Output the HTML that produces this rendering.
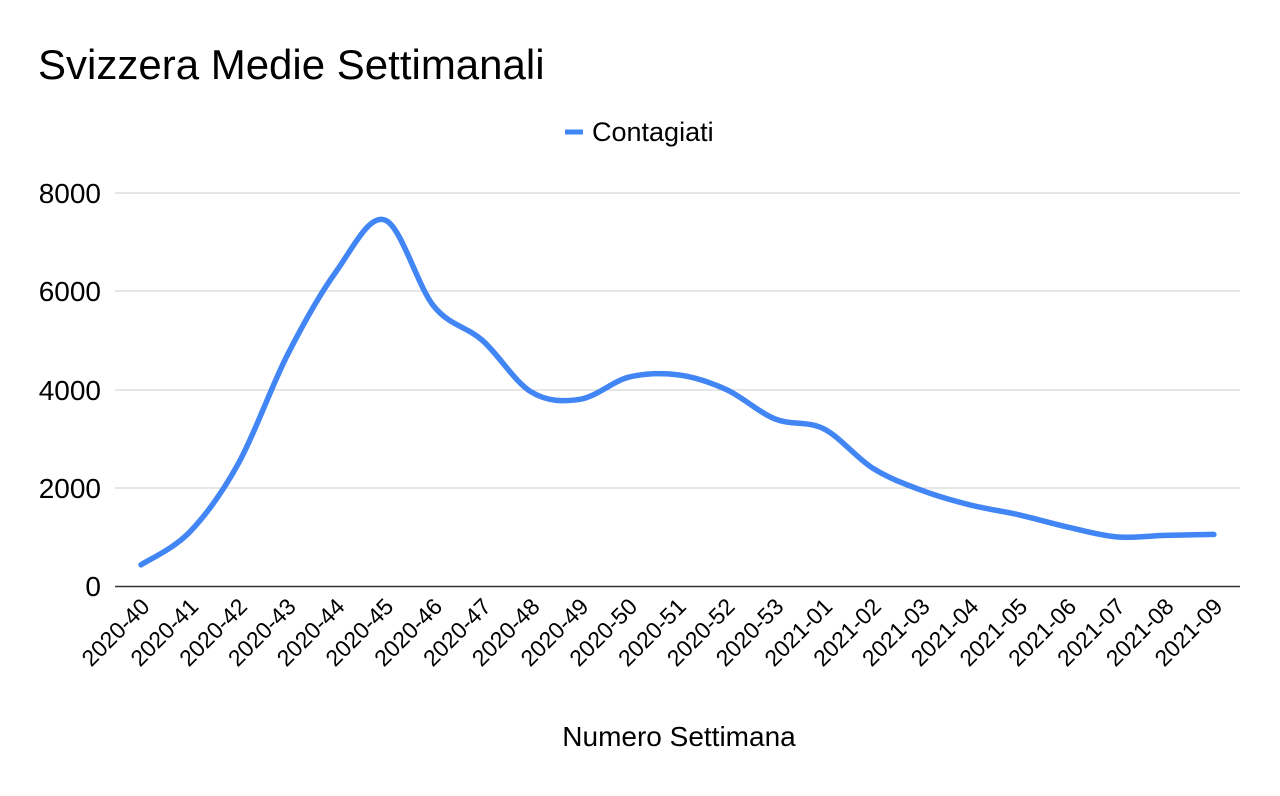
<!DOCTYPE html>
<html><head><meta charset="utf-8"><style>
body{margin:0;background:#fff;}
svg text{font-family:"Liberation Sans",Arial,sans-serif;fill:#000;}
</style></head><body>
<svg id="s" width="1280" height="791" xmlns="http://www.w3.org/2000/svg">
<rect width="1280" height="791" fill="#fff"/>
<text x="38" y="79" font-size="42">Svizzera Medie Settimanali</text>
<line x1="565" y1="132" x2="583" y2="132" stroke="#4285f4" stroke-width="5"/>
<text x="592" y="141" font-size="27">Contagiati</text>
<g stroke="#cccccc" stroke-width="1">
<line x1="115" y1="193" x2="1240" y2="193"/>
<line x1="115" y1="291" x2="1240" y2="291"/>
<line x1="115" y1="390" x2="1240" y2="390"/>
<line x1="115" y1="488" x2="1240" y2="488"/>
</g>
<line x1="115" y1="586.5" x2="1240" y2="586.5" stroke="#333" stroke-width="1.5"/>
<g font-size="28" text-anchor="end">
<text x="101" y="203">8000</text>
<text x="101" y="301">6000</text>
<text x="101" y="400">4000</text>
<text x="101" y="498">2000</text>
<text x="101" y="596">0</text>
</g>
<g id="xl" font-size="23" text-anchor="end"></g>
<path id="p" fill="none" stroke="#4285f4" stroke-width="5.5" stroke-linejoin="round" stroke-linecap="round"/>
<text x="679" y="746" font-size="28" text-anchor="middle">Numero Settimana</text>
</svg>
<script>
var v=[430,1100,2500,4700,6400,7450,5700,5000,3950,3800,4250,4300,4000,3400,3200,2400,1950,1650,1450,1200,1000,1030,1050];
var lab=[];for(var i=40;i<=53;i++)lab.push("2020-"+i);for(var i=1;i<=9;i++)lab.push("2021-0"+i);
var pts=v.map(function(d,i){return [141+i*48.77,586-d*0.049125];});
var d="M"+pts[0][0]+","+pts[0][1];
for(var i=0;i<pts.length-1;i++){var p0=pts[Math.max(0,i-1)],p1=pts[i],p2=pts[i+1],p3=pts[Math.min(pts.length-1,i+2)];
var t=6;d+=" C"+(p1[0]+(p2[0]-p0[0])/t)+","+(p1[1]+(p2[1]-p0[1])/t)+" "+(p2[0]-(p3[0]-p1[0])/t)+","+(p2[1]-(p3[1]-p1[1])/t)+" "+p2[0]+","+p2[1];}
document.getElementById("p").setAttribute("d",d);
var g=document.getElementById("xl"),h="";
lab.forEach(function(l,i){var x=141+i*48.77+10,y=608;h+='<text transform="translate('+x+','+y+') rotate(-45)">'+l+'</text>';});
g.innerHTML=h;
</script>
</body></html>
